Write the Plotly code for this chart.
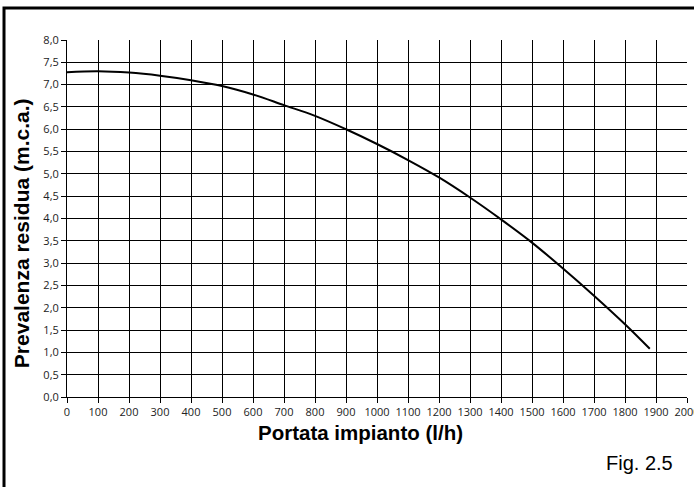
import plotly.graph_objects as go

flow_lh = [0, 100, 200, 300, 400, 500, 600, 700, 800, 900, 1000, 1100, 1200,
           1300, 1400, 1500, 1600, 1700, 1800, 1880]
head_mca = [7.28, 7.30, 7.27, 7.20, 7.10, 6.97, 6.78, 6.54, 6.30, 6.00, 5.67,
            5.31, 4.92, 4.47, 3.98, 3.46, 2.88, 2.27, 1.63, 1.08]

x_ticks = list(range(0, 2001, 100))
y_ticks = [i * 0.5 for i in range(17)]

fig = go.Figure()
fig.add_trace(go.Scatter(x=flow_lh, y=head_mca, mode="lines",
                         line=dict(color="black", width=2, shape="spline"),
                         showlegend=False, hoverinfo="skip"))

tickfont = dict(family="Open Sans, DejaVu Sans, sans-serif", size=11, color="#222")
fig.update_layout(
    width=714, height=487,
    margin=dict(l=67, r=27, t=40, b=90, autoexpand=False),
    paper_bgcolor="white", plot_bgcolor="white",
    separators=",.",
    xaxis=dict(range=[0, 2000], tickvals=x_ticks, showgrid=True, gridcolor="black",
               gridwidth=1, showline=True, linecolor="black", linewidth=1,
               ticks="outside", ticklen=5, tickcolor="black", tickfont=tickfont,
               zeroline=False, fixedrange=True, automargin=False),
    yaxis=dict(range=[0, 8], tickvals=y_ticks, tickformat=".1f", showgrid=True,
               gridcolor="black", gridwidth=1, showline=True, linecolor="black",
               linewidth=1, ticks="outside", ticklen=5, tickcolor="black",
               tickfont=tickfont, zeroline=False, fixedrange=True, automargin=False),
    shapes=[dict(type="rect", xref="paper", yref="paper",
                 x0=-0.1016, x1=1.05, y0=-0.35, y1=1.0896,
                 line=dict(color="black", width=3), layer="above")],
    annotations=[
        dict(text="<b>Prevalenza residua (m.c.a.)</b>", xref="paper", yref="paper",
             x=-0.0742, y=0.459, textangle=-90, showarrow=False,
             font=dict(family="Liberation Sans, Arial, sans-serif", size=21, color="black"),
             xanchor="center", yanchor="middle"),
        dict(text="<b>Portata impianto (l/h)</b>", xref="paper", yref="paper",
             x=0.4726, y=-0.1008, showarrow=False,
             font=dict(family="Liberation Sans, Arial, sans-serif", size=20.5, color="black"),
             xanchor="center", yanchor="middle"),
        dict(text="Fig. 2.5", xref="paper", yref="paper",
             x=0.924, y=-0.185, showarrow=False,
             font=dict(family="Liberation Sans, Arial, sans-serif", size=20, color="black"),
             xanchor="center", yanchor="middle"),
    ],
)

fig.write_html(
    "out.html",
    config={"displayModeBar": False, "staticPlot": True},
    post_script="document.body.style.margin='0px';document.body.style.overflow='hidden';",
)
